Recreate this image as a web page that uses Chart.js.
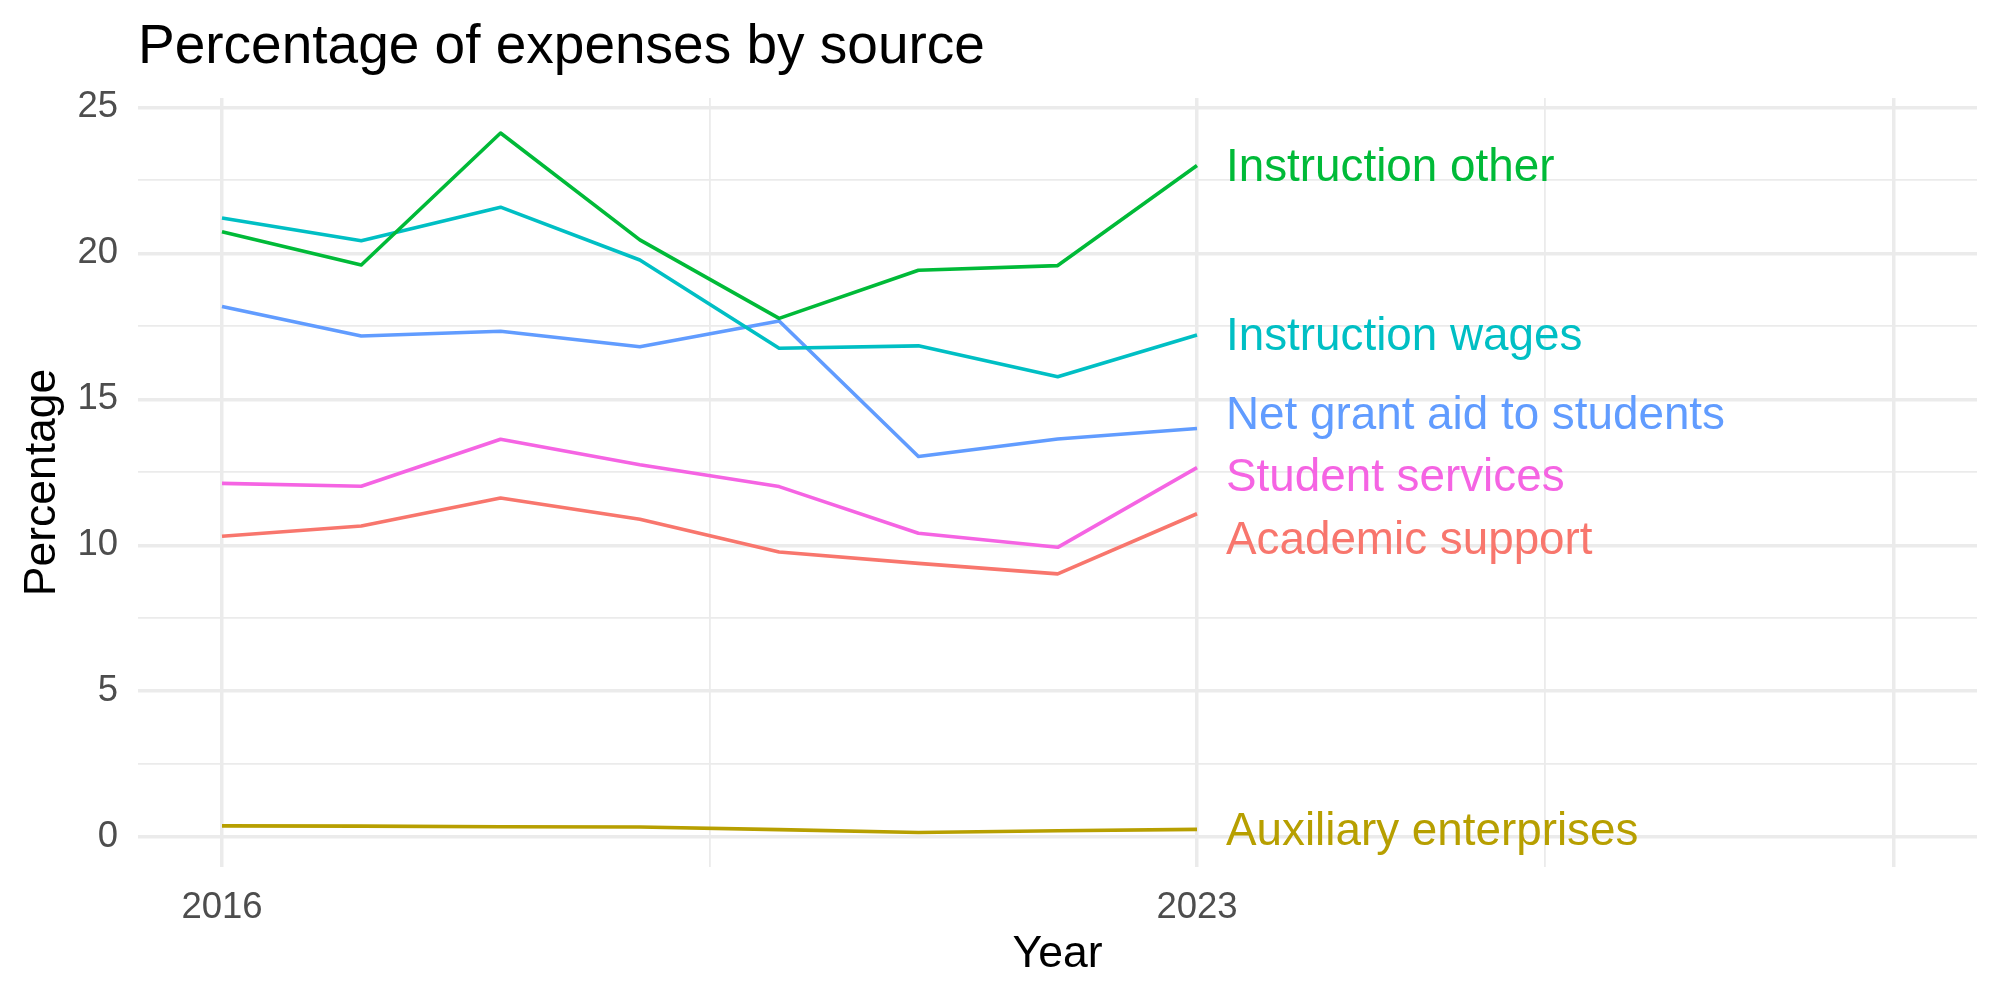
<!DOCTYPE html>
<html>
<head>
<meta charset="utf-8">
<script src="https://cdn.jsdelivr.net/npm/chart.js@4"></script>
<style>
  html, body { margin: 0; padding: 0; background: #ffffff; }
  #wrap { width: 2000px; height: 1000px; }
</style>
</head>
<body>
<div id="wrap"><canvas id="c" width="2000" height="1000"></canvas></div>
<script>
// ---- Data ----
const years = [2016, 2017, 2018, 2019, 2020, 2021, 2022, 2023];

const academicSupport      = [10.31, 10.66, 11.62, 10.89, 9.77, 9.38, 9.02, 11.08];
const auxiliaryEnterprises = [0.39, 0.38, 0.36, 0.35, 0.26, 0.16, 0.22, 0.27];
const instructionOther     = [20.74, 19.60, 24.12, 20.46, 17.77, 19.42, 19.58, 23.01];
const instructionWages     = [21.21, 20.43, 21.58, 19.77, 16.75, 16.83, 15.77, 17.20];
const netGrantAid          = [18.18, 17.17, 17.33, 16.80, 17.68, 13.04, 13.64, 14.00];
const studentServices      = [12.12, 12.02, 13.63, 12.76, 12.01, 10.41, 9.93, 12.66];

const seriesNames = ["Academic support", "Auxiliary enterprises", "Instruction other",
                     "Instruction wages", "Net grant aid to students", "Student services"];
const seriesValues = [academicSupport, auxiliaryEnterprises, instructionOther,
                      instructionWages, netGrantAid, studentServices];
const seriesColors = ["#F8766D", "#B79F00", "#00BA38", "#00BFC4", "#619CFF", "#F564E3"];

// end-label vertical positions (data units, after repel)
const labelYValues = [10.19, 0.23, 22.98, 17.18, 14.50, 12.37];

const xTickValues = [2016, 2019.5, 2023, 2025.5, 2028];
const xTickLabels = ["2016", "", "2023", "", ""];
const xMajor      = [true, false, true, false, true];
const yTickValues = [0, 2.5, 5, 7.5, 10, 12.5, 15, 17.5, 20, 22.5, 25];
const yTickLabels = ["0", "", "5", "", "10", "", "15", "", "20", "", "25"];

const FONT = "'Liberation Sans', Arial, Helvetica, sans-serif";

const endLabels = {
  id: 'endLabels',
  afterDatasetsDraw(chart) {
    const ctx = chart.ctx;
    const xs = chart.scales.x, ys = chart.scales.y;
    ctx.save();
    ctx.font = "45.8px " + FONT;
    ctx.textAlign = 'left';
    ctx.textBaseline = 'middle';
    seriesNames.forEach((name, i) => {
      const x = xs.getPixelForValue(years[years.length - 1]) + 29;
      const y = ys.getPixelForValue(labelYValues[i]) + 2;
      ctx.fillStyle = seriesColors[i];
      ctx.fillText(name, x, y);
    });
    ctx.restore();
  }
};

const datasets = seriesNames.map((name, i) => ({
  label: name,
  data: years.map((yr, j) => ({ x: yr, y: seriesValues[i][j] })),
  borderColor: seriesColors[i],
  backgroundColor: seriesColors[i],
  borderWidth: 3.6,
  pointRadius: 0,
  tension: 0,
  fill: false,
  borderJoinStyle: 'round',
  borderCapStyle: 'butt'
}));

new Chart(document.getElementById('c'), {
  type: 'line',
  data: { datasets },
  plugins: [endLabels],
  options: {
    responsive: false,
    animation: false,
    devicePixelRatio: 1,
    layout: { padding: { left: 0, right: 23, top: 0, bottom: 0 } },
    plugins: {
      legend: { display: false },
      tooltip: { enabled: false },
      title: {
        display: true,
        text: 'Percentage of expenses by source',
        align: 'start',
        fullSize: false,
        color: '#000000',
        font: { family: FONT, size: 55, weight: 'normal', lineHeight: 1.2 },
        padding: { top: 15, bottom: 17 }
      }
    },
    scales: {
      x: {
        type: 'linear',
        min: 2015.397,
        max: 2028.6,
        afterBuildTicks: (scale) => { scale.ticks = xTickValues.map(v => ({ value: v })); },
        afterFit: (scale) => { scale.height = 133; },
        ticks: {
          autoSkip: false,
          maxRotation: 0,
          padding: 19,
          color: '#4D4D4D',
          font: { family: FONT, size: 36.5 },
          callback: (v) => { const k = xTickValues.indexOf(v); return k >= 0 ? xTickLabels[k] : ''; }
        },
        grid: {
          color: '#EBEBEB',
          drawTicks: false,
          lineWidth: (c) => { const k = xTickValues.indexOf(c.tick ? c.tick.value : NaN); return k >= 0 && xMajor[k] ? 3.5 : 1.8; }
        },
        border: { display: false },
        title: {
          display: true,
          text: 'Year',
          color: '#000000',
          font: { family: FONT, size: 44.5 },
          padding: { top: 0, bottom: 19 }
        }
      },
      y: {
        type: 'linear',
        min: -1.02,
        max: 25.32,
        afterBuildTicks: (scale) => { scale.ticks = yTickValues.map(v => ({ value: v })); },
        afterFit: (scale) => { scale.width = 138; },
        ticks: {
          autoSkip: false,
          padding: 20,
          color: '#4D4D4D',
          font: { family: FONT, size: 36.5 },
          callback: (v) => { const k = yTickValues.indexOf(v); return k >= 0 ? yTickLabels[k] : ''; }
        },
        grid: {
          color: '#EBEBEB',
          drawTicks: false,
          lineWidth: (c) => { const v = c.tick ? c.tick.value : NaN; return (v % 5 === 0) ? 3.5 : 1.8; }
        },
        border: { display: false },
        title: {
          display: true,
          text: 'Percentage',
          color: '#000000',
          font: { family: FONT, size: 44.5 },
          padding: { top: 16, bottom: 0 }
        }
      }
    }
  }
});
</script>
</body>
</html>
